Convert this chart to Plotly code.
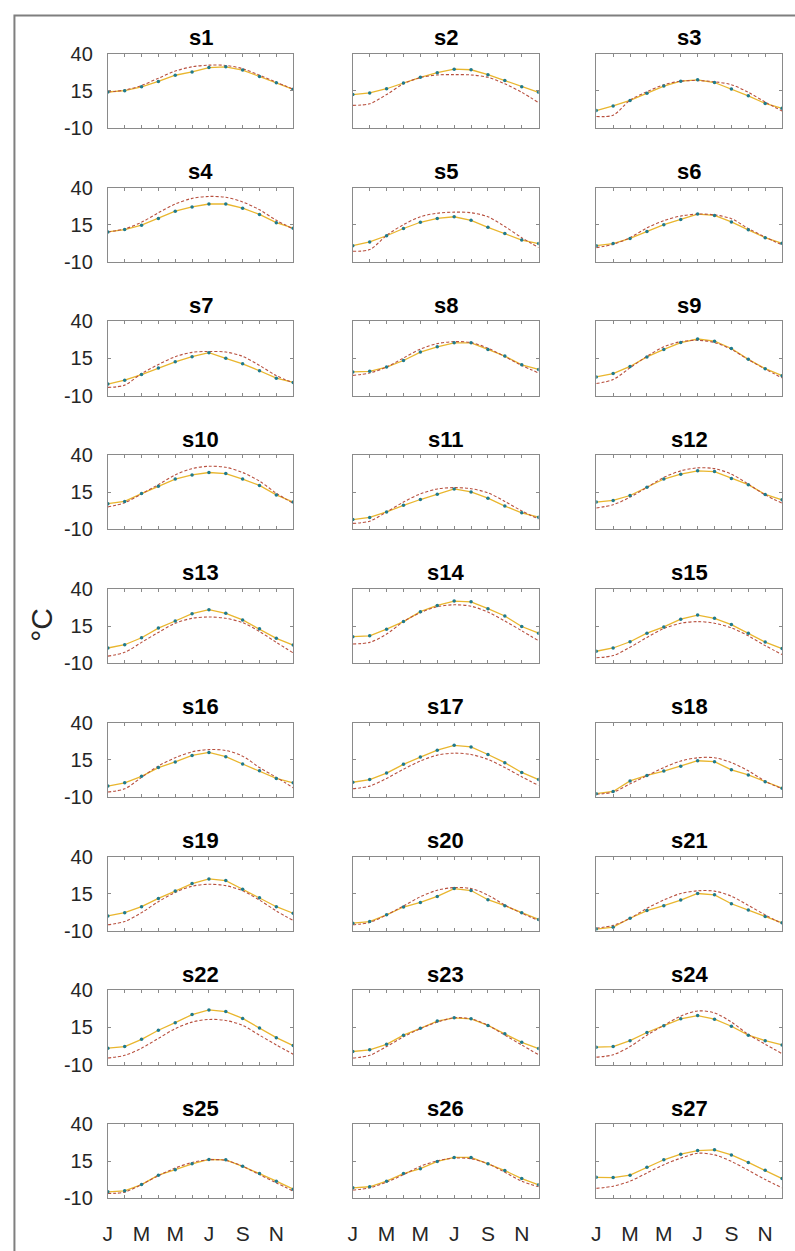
import plotly.graph_objects as go

# ---------------- data ----------------
months = list(range(1, 13))
month_labels = ["J", "", "M", "", "M", "", "J", "", "S", "", "N", ""]
y_ticks = [-10, 15, 40]
y_tick_labels = ["-10", "15", "40"]
station_names = [f"s{i}" for i in range(1, 28)]

obs_s1 = [14.2, 15.1, 17.7, 21.3, 25.5, 27.7, 30.7, 31.2, 29.0, 24.6, 20.4, 16.0]
sim_s1 = [14.2, 15.5, 18.6, 23.5, 28.3, 31.2, 32.3, 32.1, 29.9, 25.5, 20.8, 16.2]
obs_s2 = [12.5, 13.6, 16.4, 20.2, 24.1, 27.2, 29.6, 29.2, 25.9, 21.9, 17.7, 14.0]
sim_s2 = [5.2, 6.3, 12.5, 19.7, 23.9, 25.7, 25.9, 25.7, 24.1, 19.7, 14.0, 7.0]
obs_s3 = [1.7, 4.8, 8.5, 13.3, 18.2, 21.5, 22.4, 20.6, 16.2, 11.6, 6.5, 3.2]
sim_s3 = [-2.3, -1.4, 8.7, 14.4, 19.1, 21.5, 21.9, 21.1, 19.1, 14.0, 7.4, 1.4]
obs_s4 = [10.1, 11.7, 14.6, 19.2, 24.1, 26.9, 28.9, 28.9, 26.1, 21.9, 16.3, 12.6]
sim_s4 = [10.1, 12.1, 16.6, 23.0, 28.9, 32.7, 34.0, 33.4, 30.3, 25.0, 17.9, 12.1]
obs_s5 = [0.8, 3.3, 7.5, 12.4, 16.6, 19.2, 20.3, 17.9, 13.2, 9.0, 4.6, 2.2]
sim_s5 = [-2.9, -1.8, 7.7, 15.0, 20.3, 22.7, 23.4, 23.0, 20.3, 13.7, 6.2, -0.5]
obs_s6 = [0.8, 2.2, 5.7, 10.4, 15.0, 18.5, 22.1, 21.2, 16.8, 11.5, 6.2, 2.4]
sim_s6 = [-0.5, 1.7, 6.2, 12.8, 17.7, 20.8, 22.1, 21.6, 19.0, 12.4, 6.6, 1.3]
obs_s7 = [-2.3, 0.3, 4.1, 8.5, 12.7, 16.2, 18.9, 15.1, 11.4, 6.7, 1.7, -1.2]
sim_s7 = [-4.5, -3.0, 4.8, 10.9, 16.2, 19.1, 19.7, 19.3, 16.4, 10.3, 3.4, -1.4]
obs_s8 = [5.9, 6.3, 9.2, 13.6, 19.3, 22.8, 25.5, 25.5, 21.1, 16.6, 10.7, 7.6]
sim_s8 = [3.6, 5.2, 9.2, 15.3, 21.3, 25.0, 26.3, 25.7, 21.9, 16.2, 10.3, 5.2]
obs_s9 = [2.5, 4.8, 9.6, 16.0, 21.1, 25.7, 28.1, 26.6, 21.7, 14.4, 8.1, 3.4]
sim_s9 = [-1.9, 0.8, 8.7, 16.4, 22.8, 26.3, 27.2, 25.7, 21.1, 14.2, 7.8, 1.9]
obs_s10 = [7.3, 8.8, 14.1, 19.0, 23.9, 26.7, 28.3, 27.6, 23.9, 19.6, 13.2, 8.4]
sim_s10 = [5.1, 7.9, 13.9, 20.1, 26.7, 30.9, 32.5, 31.8, 28.3, 22.5, 14.3, 7.5]
obs_s11 = [-3.4, -2.0, 1.7, 6.2, 10.1, 13.7, 17.2, 15.2, 11.0, 5.7, 1.1, -1.8]
sim_s11 = [-6.0, -4.5, 1.7, 8.4, 13.9, 17.2, 18.1, 17.4, 14.6, 8.8, 2.4, -3.1]
obs_s12 = [8.4, 9.5, 12.8, 18.3, 23.9, 27.2, 29.4, 28.9, 24.3, 20.1, 13.5, 9.9]
sim_s12 = [4.4, 6.6, 11.7, 18.3, 25.0, 29.4, 31.4, 30.9, 27.2, 20.5, 13.2, 7.7]
obs_s13 = [0.2, 2.4, 7.1, 13.6, 18.4, 23.3, 26.0, 23.6, 19.1, 13.1, 6.7, 2.2]
sim_s13 = [-5.3, -2.7, 4.0, 10.7, 16.9, 20.2, 21.1, 20.2, 17.3, 11.3, 4.0, -3.1]
obs_s14 = [7.8, 8.4, 12.9, 18.0, 24.7, 28.9, 31.8, 31.3, 26.7, 21.8, 14.7, 10.2]
sim_s14 = [2.9, 4.0, 9.6, 18.0, 24.0, 28.0, 29.3, 28.4, 24.4, 18.4, 11.8, 5.1]
obs_s15 = [-2.0, 0.2, 4.4, 10.2, 14.4, 19.6, 22.4, 20.2, 16.0, 10.2, 4.2, -0.2]
sim_s15 = [-6.4, -4.9, 0.7, 7.3, 13.3, 16.9, 18.0, 16.9, 13.8, 8.4, 1.8, -4.2]
obs_s16 = [-2.7, -0.5, 3.9, 9.8, 13.6, 18.0, 20.0, 17.1, 12.2, 7.6, 2.5, -0.5]
sim_s16 = [-6.7, -4.5, 3.2, 10.9, 16.4, 20.4, 21.9, 21.3, 17.5, 9.8, 3.2, -3.8]
obs_s17 = [-0.1, 1.7, 6.1, 12.0, 16.9, 21.5, 24.8, 23.7, 18.6, 13.1, 6.5, 1.7]
sim_s17 = [-4.5, -2.7, 2.5, 8.7, 14.2, 18.2, 19.5, 18.6, 15.3, 9.8, 3.6, -2.3]
obs_s18 = [-7.8, -6.3, 0.8, 4.5, 7.4, 10.7, 14.4, 13.8, 8.3, 4.8, 0.3, -4.1]
sim_s18 = [-8.2, -6.7, -1.2, 4.3, 9.8, 14.2, 16.4, 16.4, 13.1, 7.6, 0.6, -4.5]
obs_s19 = [0.0, 2.2, 6.2, 11.8, 16.7, 21.8, 24.9, 23.8, 18.0, 12.2, 6.2, 1.8]
sim_s19 = [-6.0, -3.8, 2.2, 9.6, 15.8, 20.0, 21.3, 20.4, 16.9, 10.7, 3.3, -3.1]
obs_s20 = [-4.9, -3.8, 0.7, 6.0, 9.1, 13.1, 18.4, 17.1, 10.9, 6.9, 2.2, -2.4]
sim_s20 = [-6.0, -4.4, 0.7, 6.7, 12.9, 17.3, 19.1, 18.4, 14.0, 7.3, 1.8, -3.1]
obs_s21 = [-8.9, -7.6, -1.6, 3.6, 6.9, 10.7, 15.1, 14.2, 8.2, 4.0, -0.4, -4.7]
sim_s21 = [-8.2, -6.4, -1.6, 5.1, 10.7, 15.1, 16.9, 16.7, 13.3, 7.1, 0.7, -5.3]
obs_s22 = [1.0, 2.1, 7.0, 13.1, 18.2, 23.7, 26.8, 25.7, 21.1, 14.7, 8.1, 2.8]
sim_s22 = [-5.6, -3.8, 1.0, 7.6, 14.2, 18.6, 20.4, 19.7, 16.4, 9.8, 3.2, -3.0]
obs_s23 = [-1.2, -0.1, 3.6, 9.8, 14.4, 19.3, 21.5, 20.8, 16.4, 10.7, 5.0, 0.8]
sim_s23 = [-5.6, -3.8, 2.1, 8.7, 14.2, 18.6, 21.5, 20.8, 16.4, 9.8, 3.2, -3.4]
obs_s24 = [1.7, 2.1, 6.1, 11.6, 16.2, 20.8, 23.0, 20.6, 15.8, 9.8, 6.1, 3.2]
sim_s24 = [-5.0, -3.4, 2.1, 9.8, 16.4, 22.6, 26.1, 24.8, 18.6, 10.3, 3.7, -2.7]
obs_s25 = [-5.6, -4.9, -0.7, 5.6, 9.3, 13.3, 16.2, 16.0, 11.6, 6.7, 1.6, -3.8]
sim_s25 = [-6.7, -5.8, -0.7, 5.3, 10.4, 14.2, 16.0, 15.6, 11.6, 6.0, 0.4, -5.1]
obs_s26 = [-2.9, -2.2, 1.6, 6.7, 10.0, 14.9, 17.6, 17.6, 13.3, 8.7, 3.3, -0.9]
sim_s26 = [-4.4, -2.9, 0.9, 6.0, 11.6, 15.3, 17.1, 16.7, 13.3, 7.6, 1.6, -2.2]
obs_s27 = [4.2, 4.0, 5.6, 10.9, 16.0, 19.8, 22.2, 22.7, 19.3, 14.2, 8.9, 3.3]
sim_s27 = [-3.3, -1.8, 1.6, 7.1, 12.7, 17.1, 20.4, 19.3, 14.9, 8.9, 2.7, -2.9]

obs_all = [obs_s1, obs_s2, obs_s3, obs_s4, obs_s5, obs_s6, obs_s7, obs_s8, obs_s9,
           obs_s10, obs_s11, obs_s12, obs_s13, obs_s14, obs_s15, obs_s16, obs_s17, obs_s18,
           obs_s19, obs_s20, obs_s21, obs_s22, obs_s23, obs_s24, obs_s25, obs_s26, obs_s27]
sim_all = [sim_s1, sim_s2, sim_s3, sim_s4, sim_s5, sim_s6, sim_s7, sim_s8, sim_s9,
           sim_s10, sim_s11, sim_s12, sim_s13, sim_s14, sim_s15, sim_s16, sim_s17, sim_s18,
           sim_s19, sim_s20, sim_s21, sim_s22, sim_s23, sim_s24, sim_s25, sim_s26, sim_s27]

# ---------------- layout geometry (pixels) ----------------
W, H = 795, 1251
col_x = [(103.5, 290), (350, 537), (595, 782)]
row_top0, row_step, row_h = 43.5, 136.2, 75.5

SOLID = "#E9B62E"
DASH = "#B8503F"
DOT = "#1F7A8C"
AXC = "#8A8A8A"
FONT = "Liberation Sans, Arial, sans-serif"

fig = go.Figure()
layout_axes = {}
annotations = []

for k in range(27):
    r, c = divmod(k, 3)
    sfx = "" if k == 0 else str(k + 1)
    xref, yref = "x" + sfx, "y" + sfx
    x0, x1 = col_x[c]
    top = row_top0 + r * row_step
    bot = top + row_h

    fig.add_trace(go.Scatter(x=months, y=obs_all[k], mode="lines",
                             line=dict(color=SOLID, width=1.3),
                             xaxis=xref, yaxis=yref, showlegend=False, hoverinfo="skip"))
    fig.add_trace(go.Scatter(x=months, y=sim_all[k], mode="lines",
                             line=dict(color=DASH, width=1.1, dash="3px,2px", shape="spline", smoothing=0.9),
                             xaxis=xref, yaxis=yref, showlegend=False, hoverinfo="skip"))
    fig.add_trace(go.Scatter(x=months, y=obs_all[k], mode="markers",
                             marker=dict(color=DOT, size=3.5),
                             xaxis=xref, yaxis=yref, showlegend=False, hoverinfo="skip"))

    layout_axes["xaxis" + sfx] = dict(
        domain=[x0 / W, x1 / W], anchor=yref, range=[1, 12],
        tickmode="array", tickvals=months, ticktext=month_labels,
        ticks="inside", ticklen=3, tickcolor=AXC, tickwidth=1,
        showline=True, linecolor=AXC, linewidth=1, mirror="ticks",
        showgrid=False, zeroline=False,
        showticklabels=(r == 8), ticklabelstandoff=16,
        tickfont=dict(family=FONT, size=21, color="#262626"),
    )
    layout_axes["yaxis" + sfx] = dict(
        domain=[1 - bot / H, 1 - top / H], anchor=xref, range=[-10, 40],
        tickmode="array", tickvals=y_ticks, ticktext=y_tick_labels,
        ticks="inside", ticklen=3, tickcolor=AXC, tickwidth=1,
        showline=True, linecolor=AXC, linewidth=1, mirror="ticks",
        showgrid=False, zeroline=False,
        showticklabels=(c == 0), ticklabelstandoff=10,
        tickfont=dict(family=FONT, size=20, color="#262626"),
    )
    annotations.append(dict(
        text="<b>" + station_names[k] + "</b>", xref="paper", yref="paper",
        x=(x0 + x1) / 2 / W, y=1 - (top - 1.5) / H, xanchor="center", yanchor="bottom",
        showarrow=False, font=dict(family=FONT, size=22, color="#000000"),
    ))

annotations.append(dict(
    text="°C", xref="paper", yref="paper", x=36 / W, y=1 - 625 / H,
    xanchor="center", yanchor="middle", textangle=-90, showarrow=False,
    font=dict(family=FONT, size=30, color="#262626"),
))

fig.update_layout(
    width=W, height=H, autosize=False,
    margin=dict(l=0, r=0, t=0, b=0, pad=0),
    paper_bgcolor="white", plot_bgcolor="white",
    annotations=annotations,
    shapes=[dict(type="rect", xref="paper", yref="paper",
                 x0=9.5 / W, x1=1.05, y0=-0.05, y1=1 - 4.5 / H,
                 line=dict(color="#7F7F7F", width=2), fillcolor="rgba(0,0,0,0)", layer="below")],
    **layout_axes,
)

fig.write_html("out.html")
